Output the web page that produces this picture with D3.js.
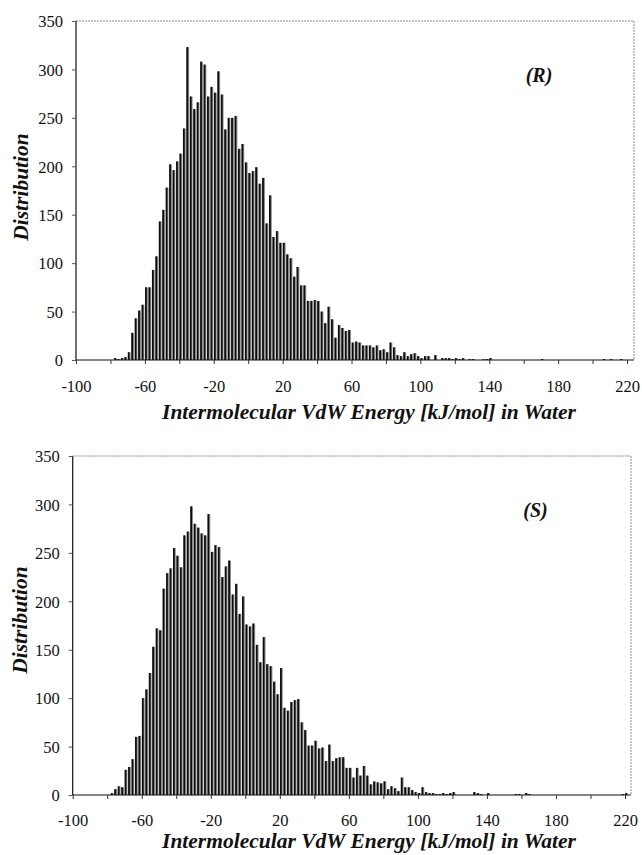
<!DOCTYPE html>
<html>
<head>
<meta charset="utf-8">
<script src="https://cdn.jsdelivr.net/npm/d3@7"></script>
<style>
  html, body { margin: 0; padding: 0; background: #fff; }
  svg { display: block; }
</style>
</head>
<body>
<svg id="chart" width="642" height="855"></svg>
<script>
// ---------- DATA ----------
// Bin centres (bin width 2 kJ/mol)
const binCenters = [
  -77,-75,-73,-71,-69,-67,-65,-63,-61,-59,
  -57,-55,-53,-51,-49,-47,-45,-43,-41,-39,
  -37,-35,-33,-31,-29,-27,-25,-23,-21,-19,
  -17,-15,-13,-11,-9,-7,-5,-3,-1,1,
  3,5,7,9,11,13,15,17,19,21,
  23,25,27,29,31,33,35,37,39,41,
  43,45,47,49,51,53,55,57,59,61,
  63,65,67,69,71,73,75,77,79,81,
  83,85,87,89,91,93,95,97,99,101,
  103,105,107,109,111,113,115,117,119,121,
  123,125,127,129,131,133,135,137,139,141,
  143,145,147,149,151,153,155,157,159,161,
  163,165,167,169,171,173,175,177,179,181,
  183,185,187,189,191,193,195,197,199,201,
  203,205,207,209,211,213,215,217,219,221
];
const binWidth = 2;

// (R) enantiomer distribution
const valuesR = [
  2,1,2,3,8,28,43,51,57,75,
  75,93,107,143,155,178,202,196,205,213,
  239,323,272,259,266,308,305,272,282,276,
  298,274,238,250,250,252,218,223,204,193,
  195,199,182,188,141,170,127,133,121,121,
  109,105,86,96,77,77,61,61,62,61,
  50,38,55,42,23,36,33,30,31,18,
  19,18,15,15,15,13,15,10,11,8,
  18,13,5,4,8,4,6,7,4,2,
  4,4,0,5,0,2,2,2,1,2,
  1,2,0,1,1,0,0,1,1,2,
  0,0,0,0,0,0,0,0,0,0,
  0,0,0,0,1,0,0,0,0,0,
  0,0,0,0,0,0,0,0,0,0,
  0,0,1,0,1,0,0,1,0,0
];

// (S) enantiomer distribution
const valuesS = [
  2,6,9,8,26,29,37,60,61,100,
  109,126,153,172,170,213,229,234,255,247,
  235,268,272,298,280,276,270,268,290,251,
  258,256,225,236,242,207,218,187,205,176,
  174,177,155,137,163,135,133,117,104,131,
  90,87,96,98,99,75,67,51,51,56,
  48,49,35,52,35,38,39,39,28,28,
  18,28,20,30,20,11,14,13,12,14,
  6,9,7,4,18,8,8,5,3,2,
  8,3,2,2,1,1,2,1,2,3,
  0,0,0,0,0,3,2,1,0,2,
  0,0,0,0,0,0,0,1,1,0,
  2,1,0,0,0,0,0,0,0,0,
  0,0,0,0,0,0,0,0,0,0,
  0,0,0,0,0,0,0,0,1,2
];

const xTicks = [-100,-80,-60,-40,-20,0,20,40,60,80,100,120,140,160,180,200,220];
const xTickLabels = [-100,-60,-20,20,60,100,140,180,220];
const yTicks = [0,50,100,150,200,250,300,350];

const xTitle = "Intermolecular VdW Energy [kJ/mol] in Water";
const yTitle = "Distribution";

// ---------- DRAW ----------
const svg = d3.select("#chart");
const serif = "'Liberation Serif', 'Times New Roman', serif";

const panels = [
  { values: valuesR, tag: "(R)", left: 76, right220: 627, frameRight: 634, top: 21, bottom: 360,
    tagX: 539, tagY: 82, labelY: 392, titleY: 419, yTitleX: 28, yTitleY: 187 },
  { values: valuesS, tag: "(S)", left: 72.7, right220: 625, frameRight: 631, top: 456, bottom: 795,
    tagX: 535.5, tagY: 517, labelY: 826, titleY: 848, yTitleX: 27, yTitleY: 620 }
];

panels.forEach(p => {
  const g = svg.append("g");
  const x = d3.scaleLinear().domain([-100, 220]).range([p.left, p.right220]);
  const y = d3.scaleLinear().domain([0, 350]).range([p.bottom, p.top]);

  const data = binCenters.map((c, i) => ({ c, v: p.values[i] })).filter(d => d.v > 0);

  // frame (top & right, dotted grey)
  g.append("line")
    .attr("x1", x(-100)).attr("x2", p.frameRight)
    .attr("y1", y(350)).attr("y2", y(350))
    .attr("stroke", "#8a8a8a").attr("stroke-width", 1).attr("stroke-dasharray", "2,1");
  g.append("line")
    .attr("x1", p.frameRight).attr("x2", p.frameRight)
    .attr("y1", y(350)).attr("y2", y(0))
    .attr("stroke", "#8a8a8a").attr("stroke-width", 1).attr("stroke-dasharray", "2,1");

  // bars: dark edge + grey fill
  const bw = d => x(d.c + binWidth / 2) - x(d.c - binWidth / 2);
  const bars = g.append("g");
  bars.selectAll("rect.fill").data(data).join("rect")
    .attr("class", "fill")
    .attr("x", d => x(d.c - binWidth / 2) + 0.2)
    .attr("width", d => bw(d) * 0.8)
    .attr("y", d => y(d.v))
    .attr("height", d => y(0) - y(d.v))
    .attr("fill", "#8c8c8c");
  bars.selectAll("rect.edge").data(data).join("rect")
    .attr("class", "edge")
    .attr("x", d => x(d.c - binWidth / 2) + 0.2)
    .attr("width", d => bw(d) * 0.5)
    .attr("y", d => y(d.v))
    .attr("height", d => y(0) - y(d.v))
    .attr("fill", "#0d0d0d");

  // x axis
  const xAxis = d3.axisBottom(x)
    .tickValues(xTicks)
    .tickSize(4)
    .tickPadding(12)
    .tickFormat(d => xTickLabels.includes(d) ? String(d) : "");
  const gx = g.append("g").attr("transform", `translate(0,${y(0)})`).call(xAxis);
  gx.select(".domain").attr("d", `M${x(-100)},0H${p.frameRight}`).attr("stroke", "#111").attr("stroke-width", 1.2);
  gx.selectAll(".tick line").attr("stroke", "#333");
  gx.selectAll(".tick text").attr("font-family", serif).attr("font-size", 16.5).attr("fill", "#111")
    .attr("y", 0).attr("dy", null).attr("transform", `translate(0,${p.labelY - y(0)})`);

  // y axis
  const yAxis = d3.axisLeft(y)
    .tickValues(yTicks)
    .tickSize(4)
    .tickPadding(9)
    .tickFormat(d => String(d));
  const gy = g.append("g").attr("transform", `translate(${x(-100)},0)`).call(yAxis);
  gy.select(".domain").attr("d", `M0,${y(350)}V${y(0)}`).attr("stroke", "#111").attr("stroke-width", 1.2);
  gy.selectAll(".tick line").attr("stroke", "#555");
  gy.selectAll(".tick text").attr("font-family", serif).attr("font-size", 16.5).attr("fill", "#111").attr("dy", "0.35em");

  // panel tag
  g.append("text")
    .attr("x", p.tagX).attr("y", p.tagY)
    .attr("text-anchor", "middle")
    .attr("font-family", serif).attr("font-size", 20)
    .attr("font-weight", "bold").attr("font-style", "italic")
    .attr("fill", "#111")
    .text(p.tag);

  // axis titles
  g.append("text")
    .attr("x", 369).attr("y", p.titleY)
    .attr("text-anchor", "middle")
    .attr("font-family", serif).attr("font-size", 21.5)
    .attr("font-weight", "bold").attr("font-style", "italic")
    .attr("fill", "#111")
    .text(xTitle);

  g.append("text")
    .attr("transform", `translate(${p.yTitleX},${p.yTitleY}) rotate(-90)`)
    .attr("text-anchor", "middle")
    .attr("font-family", serif).attr("font-size", 21.5)
    .attr("font-weight", "bold").attr("font-style", "italic")
    .attr("fill", "#111")
    .text(yTitle);
});
</script>
</body>
</html>
